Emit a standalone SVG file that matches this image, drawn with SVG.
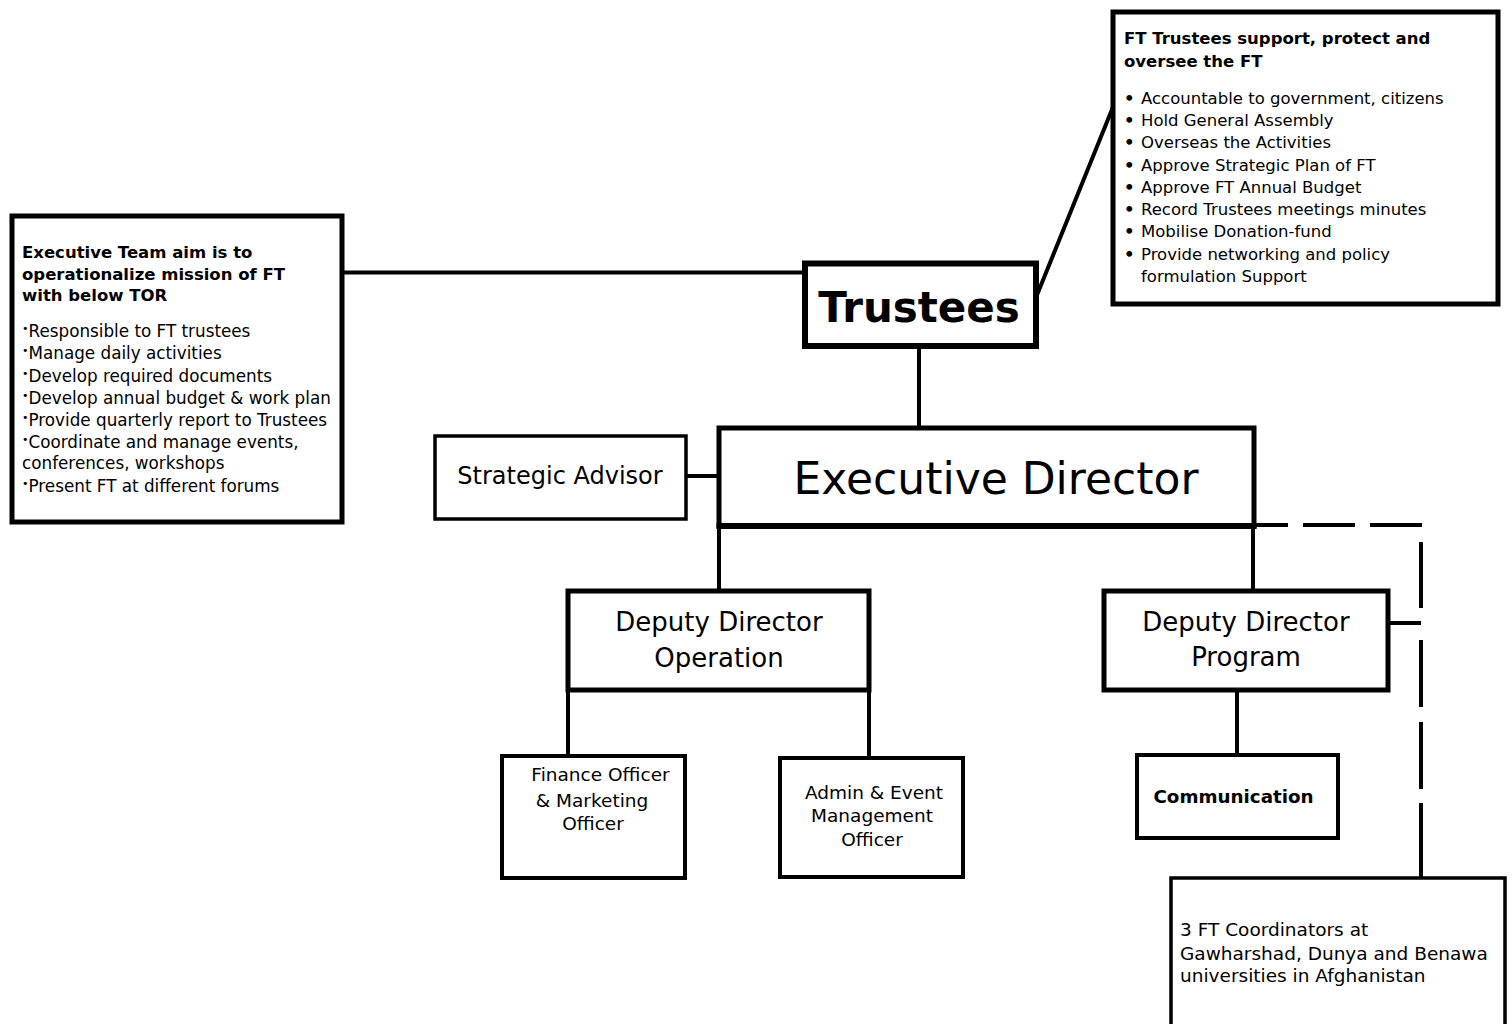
<svg xmlns="http://www.w3.org/2000/svg" width="1512" height="1024" viewBox="0 0 1512 1024">
<style>
text{font-family:"DejaVu Sans","Verdana","Liberation Sans",sans-serif;fill:#000}
.box{fill:#fff;stroke:#000}
.b{font-weight:bold}
.c{text-anchor:middle}
.ln{fill:none;stroke:#000;stroke-width:4}
.t16{font-size:16.5px}
.t17{font-size:16.8px}
</style>
<rect width="1512" height="1024" fill="#fff"/>
<g id="connectors">
<line class="ln" x1="342" y1="272.5" x2="805" y2="272.5" stroke-width="3.5"/>
<line class="ln" x1="1037" y1="295" x2="1113" y2="107" stroke-width="3.5"/>
<line class="ln" x1="919" y1="346" x2="919" y2="428"/>
<line class="ln" x1="686" y1="476" x2="720" y2="476"/>
<line class="ln" x1="719" y1="526" x2="719" y2="591"/>
<line class="ln" x1="1253" y1="526" x2="1253" y2="591"/>
<line class="ln" x1="568" y1="690" x2="568" y2="756"/>
<line class="ln" x1="869" y1="690" x2="869" y2="758"/>
<line class="ln" x1="1237" y1="690" x2="1237" y2="755"/>
<line class="ln" x1="1388" y1="623" x2="1421" y2="623"/>
<path class="ln" d="M1422 525 H1255" stroke-dasharray="52 15"/>
<path class="ln" d="M1421 542 V608 M1421 640 V707 M1421 722 V789 M1421 803 V878"/>
</g>
<g id="team-box">
<rect class="box" x="12" y="216" width="330" height="306" stroke-width="5"/>
<text class="b t16" x="22" y="258">Executive Team aim is to</text>
<text class="b t16" x="22" y="279.5">operationalize mission of FT</text>
<text class="b t16" x="22" y="300.5">with below TOR</text>
<g class="t17">
<text x="22" y="337"><tspan font-size="11" dy="-5">•</tspan><tspan dy="5">Responsible to FT trustees</tspan></text>
<text x="22" y="359"><tspan font-size="11" dy="-5">•</tspan><tspan dy="5">Manage daily activities</tspan></text>
<text x="22" y="381.5"><tspan font-size="11" dy="-5">•</tspan><tspan dy="5">Develop required documents</tspan></text>
<text x="22" y="403.5"><tspan font-size="11" dy="-5">•</tspan><tspan dy="5">Develop annual budget &amp; work plan</tspan></text>
<text x="22" y="425.5"><tspan font-size="11" dy="-5">•</tspan><tspan dy="5">Provide quarterly report to Trustees</tspan></text>
<text x="22" y="447.5"><tspan font-size="11" dy="-5">•</tspan><tspan dy="5">Coordinate and manage events,</tspan></text>
<text x="22" y="469">conferences, workshops</text>
<text x="22" y="491.5"><tspan font-size="11" dy="-5">•</tspan><tspan dy="5">Present FT at different forums</tspan></text>
</g>
</g>
<g id="trustees-note">
<rect class="box" x="1113" y="12" width="385" height="292" stroke-width="5"/>
<text class="b t16" x="1124" y="44">FT Trustees support, protect and</text>
<text class="b t16" x="1124" y="66.5">oversee the FT</text>
<g class="t16">
<text y="104"><tspan x="1124" font-weight="bold">•</tspan><tspan x="1141">Accountable to government, citizens</tspan></text>
<text y="126"><tspan x="1124" font-weight="bold">•</tspan><tspan x="1141">Hold General Assembly</tspan></text>
<text y="148"><tspan x="1124" font-weight="bold">•</tspan><tspan x="1141">Overseas the Activities</tspan></text>
<text y="170.5"><tspan x="1124" font-weight="bold">•</tspan><tspan x="1141">Approve Strategic Plan of FT</tspan></text>
<text y="192.5"><tspan x="1124" font-weight="bold">•</tspan><tspan x="1141">Approve FT Annual Budget</tspan></text>
<text y="214.5"><tspan x="1124" font-weight="bold">•</tspan><tspan x="1141">Record Trustees meetings minutes</tspan></text>
<text y="237"><tspan x="1124" font-weight="bold">•</tspan><tspan x="1141">Mobilise Donation-fund</tspan></text>
<text y="259.5"><tspan x="1124" font-weight="bold">•</tspan><tspan x="1141">Provide networking and policy</tspan></text>
<text x="1141" y="281.5">formulation Support</text>
</g>
</g>
<g id="trustees">
<rect class="box" x="805" y="263.5" width="231" height="82.5" stroke-width="6"/>
<text class="b c" x="919" y="321.5" font-size="42">Trustees</text>
</g>
<g id="strategic-advisor">
<rect class="box" x="435" y="436" width="251" height="83" stroke-width="3.5"/>
<text class="c" x="560" y="484" font-size="24">Strategic Advisor</text>
</g>
<g id="executive-director">
<rect class="box" x="719" y="428" width="535" height="98" stroke-width="5"/>
<line x1="716.5" y1="526" x2="1256.5" y2="526" stroke="#000" stroke-width="6"/>
<text class="c" x="996" y="494" font-size="44">Executive Director</text>
</g>
<g id="dd-operation">
<rect class="box" x="568" y="591" width="301" height="99" stroke-width="5"/>
<text class="c" x="719" y="631" font-size="26">Deputy Director</text>
<text class="c" x="719" y="666.5" font-size="26">Operation</text>
</g>
<g id="dd-program">
<rect class="box" x="1104" y="591" width="284" height="99" stroke-width="5"/>
<text class="c" x="1246" y="630.5" font-size="26">Deputy Director</text>
<text class="c" x="1246" y="666" font-size="26">Program</text>
</g>
<g id="finance">
<rect class="box" x="502" y="756" width="183" height="122" stroke-width="4"/>
<text class="c" x="600.5" y="781" font-size="18.5">Finance Officer</text>
<text class="c" x="592" y="806.5" font-size="18.5">&amp; Marketing</text>
<text class="c" x="593" y="830" font-size="18.5">Officer</text>
</g>
<g id="admin">
<rect class="box" x="780" y="758" width="183" height="119" stroke-width="4"/>
<text class="c" x="874" y="799" font-size="18.5">Admin &amp; Event</text>
<text class="c" x="872" y="822" font-size="18.5">Management</text>
<text class="c" x="872" y="846" font-size="18.5">Officer</text>
</g>
<g id="communication">
<rect class="box" x="1137" y="755" width="201" height="83" stroke-width="4"/>
<text class="b c" x="1233.5" y="803" font-size="18.3">Communication</text>
</g>
<g id="coordinators">
<rect class="box" x="1171" y="878" width="334" height="170" stroke-width="3.5"/>
<text x="1180" y="936" font-size="18.5">3 FT Coordinators at</text>
<text x="1180" y="960" font-size="18.5">Gawharshad, Dunya and Benawa</text>
<text x="1180" y="982" font-size="18.5">universities in Afghanistan</text>
</g>
</svg>
